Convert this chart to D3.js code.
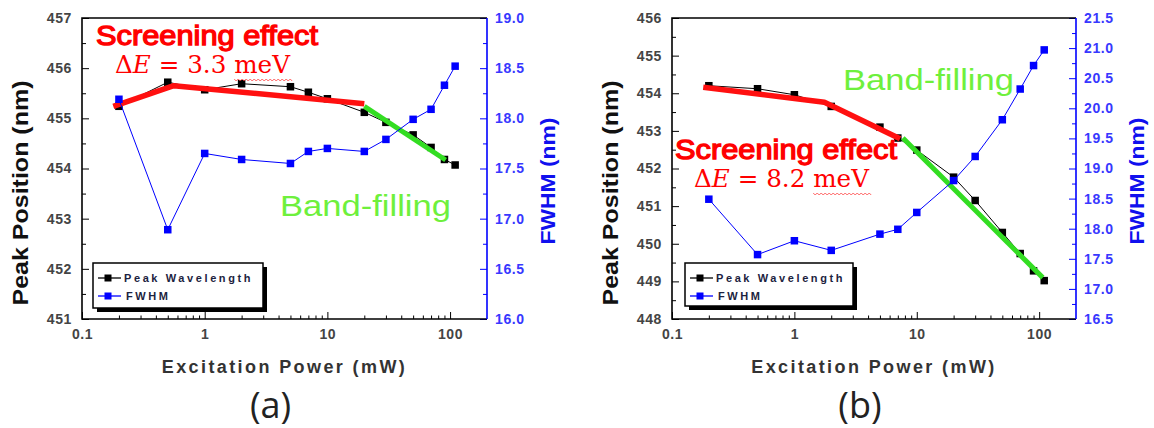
<!DOCTYPE html>
<html>
<head>
<meta charset="utf-8">
<script src="https://cdn.jsdelivr.net/npm/d3@7/dist/d3.min.js"></script>
<style>
  body { margin: 0; background: #fff; }
  svg { font-family: "Liberation Sans", Arial, sans-serif; }
</style>
</head>
<body>
<div id="chart"></div>
<script>
// excitation power (mW), shared by both samples
const power = [0.2, 0.5, 1, 2, 5, 7, 10, 20, 30, 50, 70, 90, 110];

// sample (a)
const peakA = [455.24, 455.72, 455.57, 455.69, 455.63, 455.52, 455.39, 455.12, 454.92, 454.67, 454.42, 454.18, 454.07];
const fwhmA = [18.19, 16.89, 17.65, 17.59, 17.55, 17.67, 17.70, 17.67, 17.79, 17.99, 18.09, 18.33, 18.52];
const screenFitA = { x: [0.18, 0.56, 20], y: [455.24, 455.65, 455.29] };
const bandFitA = { x: [20, 92], y: [455.24, 454.17] };

// sample (b)
const peakB = [454.20, 454.12, 453.96, 453.65, 453.10, 452.81, 452.49, 451.77, 451.15, 450.30, 449.74, 449.28, 449.02];
const fwhmB = [18.49, 17.57, 17.80, 17.64, 17.91, 17.99, 18.27, 18.80, 19.20, 19.81, 20.32, 20.71, 20.97];
const screenFitB = { x: [0.18, 1.76, 7.3], y: [454.16, 453.76, 452.79] };
const bandFitB = { x: [7.7, 107], y: [452.81, 449.10] };

// tick labels
const xTicks = [0.1, 1, 10, 100];
const xTickLabels = ['0.1', '1', '10', '100'];
const leftTicksA = [451, 452, 453, 454, 455, 456, 457];
const rightTicksA = [16.0, 16.5, 17.0, 17.5, 18.0, 18.5, 19.0];
const leftTicksB = [448, 449, 450, 451, 452, 453, 454, 455, 456];
const rightTicksB = [16.5, 17.0, 17.5, 18.0, 18.5, 19.0, 19.5, 20.0, 20.5, 21.0, 21.5];

const seriesNames = ['Peak Wavelength', 'FWHM'];

const W = 1154, H = 428;
const svg = d3.select('#chart').append('svg')
  .attr('width', W)
  .attr('height', H);

function midpoints(t) {
  const out = [];
  for (let i = 0; i < t.length - 1; i++) out.push((t[i] + t[i + 1]) / 2);
  return out;
}

function drawPanel(o) {
  const g = svg.append('g');
  const x = d3.scaleLog().domain([0.1, 200]).range([o.left, o.right]);
  const yL = d3.scaleLinear().domain(d3.extent(o.leftTicks)).range([o.bottom, o.top]);
  const yR = d3.scaleLinear().domain(d3.extent(o.rightTicks)).range([o.bottom, o.top]);

  const tickFont = s => s.attr('font-size', 14).attr('font-weight', 'bold')
    .attr('letter-spacing', 0.6).style('font-family', '"Liberation Sans", Arial, sans-serif');

  // bottom axis
  const xMinor = [];
  [0.1, 1, 10, 100].forEach(d => { for (let k = 2; k <= 9; k++) if (d * k < 200) xMinor.push(d * k); });
  g.append('g')
    .attr('transform', `translate(0,${o.bottom})`)
    .call(d3.axisBottom(x).tickValues(xMinor).tickSizeInner(-3.5).tickSizeOuter(0).tickFormat(''))
    .call(a => a.select('.domain').remove());
  g.append('g')
    .attr('transform', `translate(0,${o.bottom})`)
    .call(d3.axisBottom(x).tickValues(xTicks).tickSizeInner(-7).tickSizeOuter(0).tickPadding(10)
      .tickFormat((d, i) => xTickLabels[i]))
    .call(a => a.select('.domain').remove())
    .call(a => a.selectAll('text').attr('fill', '#444').call(tickFont));

  // left axis
  g.append('g')
    .attr('transform', `translate(${o.left},0)`)
    .call(d3.axisLeft(yL).tickValues(midpoints(o.leftTicks)).tickSizeInner(-4).tickSizeOuter(0).tickFormat(''))
    .call(a => a.select('.domain').remove());
  g.append('g')
    .attr('transform', `translate(${o.left},0)`)
    .call(d3.axisLeft(yL).tickValues(o.leftTicks).tickSizeInner(-7).tickSizeOuter(0).tickPadding(10)
      .tickFormat(d3.format('d')))
    .call(a => a.select('.domain').remove())
    .call(a => a.selectAll('text').attr('fill', '#444').call(tickFont));

  // right axis (blue)
  g.append('g')
    .attr('transform', `translate(${o.right},0)`)
    .call(d3.axisRight(yR).tickValues(midpoints(o.rightTicks)).tickSizeInner(-4).tickSizeOuter(0).tickFormat(''))
    .call(a => a.select('.domain').remove())
    .call(a => a.selectAll('line').attr('stroke', '#0000ff'));
  g.append('g')
    .attr('transform', `translate(${o.right},0)`)
    .call(d3.axisRight(yR).tickValues(o.rightTicks).tickSizeInner(-7).tickSizeOuter(0).tickPadding(8)
      .tickFormat(d3.format('.1f')))
    .call(a => a.select('.domain').remove())
    .call(a => a.selectAll('line').attr('stroke', '#0000ff'))
    .call(a => a.selectAll('text').attr('fill', '#3838ff').call(tickFont));

  // frame
  g.append('path')
    .attr('d', `M${o.right},${o.top}H${o.left}V${o.bottom}H${o.right}`)
    .attr('fill', 'none').attr('stroke', '#000').attr('stroke-width', 1.6);
  g.append('line')
    .attr('x1', o.right).attr('x2', o.right).attr('y1', o.top).attr('y2', o.bottom)
    .attr('stroke', '#0000ff').attr('stroke-width', 1.6);

  // axis titles
  g.append('text')
    .attr('x', (o.left + o.right) / 2).attr('y', 373)
    .attr('text-anchor', 'middle').attr('font-size', 18).attr('font-weight', 'bold')
    .attr('fill', '#333').attr('letter-spacing', 2.4)
    .text('Excitation Power (mW)');
  g.append('text')
    .attr('transform', `translate(${o.left - 54},193) rotate(-90)`)
    .attr('text-anchor', 'middle').attr('font-size', 22).attr('font-weight', 'bold')
    .attr('fill', '#111').attr('textLength', 225).attr('lengthAdjust', 'spacingAndGlyphs')
    .text('Peak Position (nm)');
  g.append('text')
    .attr('transform', `translate(${o.right + 68},181) rotate(-90)`)
    .attr('text-anchor', 'middle').attr('font-size', 21).attr('font-weight', 'bold')
    .attr('fill', '#1010ee').attr('textLength', 127).attr('lengthAdjust', 'spacingAndGlyphs')
    .text('FWHM (nm)');
  g.append('text')
    .attr('x', (o.left + o.right) / 2 - 14).attr('y', 418)
    .attr('text-anchor', 'middle').attr('font-size', 36)
    .style('font-family', '"Open Sans", sans-serif').attr('fill', '#222')
    .text(o.tag);

  // data series
  const peakLine = d3.line().x((d, i) => x(power[i])).y(d => yL(d));
  const fwhmLine = d3.line().x((d, i) => x(power[i])).y(d => yR(d));
  const fitLine = d3.line().x(d => x(d[0])).y(d => yL(d[1]));
  const sq = 7.5;

  g.append('path').attr('d', peakLine(o.peak))
    .attr('fill', 'none').attr('stroke', '#000').attr('stroke-width', 1);
  g.selectAll('.pk').data(o.peak).enter().append('rect')
    .attr('x', (d, i) => x(power[i]) - sq / 2).attr('y', d => yL(d) - sq / 2)
    .attr('width', sq).attr('height', sq).attr('fill', '#000');

  g.append('path').attr('d', fitLine(d3.zip(o.screenFit.x, o.screenFit.y)))
    .attr('fill', 'none').attr('stroke', '#ff1010').attr('stroke-width', 5.5)
    .attr('stroke-linejoin', 'round');
  g.append('path').attr('d', fitLine(d3.zip(o.bandFit.x, o.bandFit.y)))
    .attr('fill', 'none').attr('stroke', '#33dd22').attr('stroke-width', 5);

  g.append('path').attr('d', fwhmLine(o.fwhm))
    .attr('fill', 'none').attr('stroke', '#0000ff').attr('stroke-width', 1);
  g.selectAll('.fw').data(o.fwhm).enter().append('rect')
    .attr('x', (d, i) => x(power[i]) - sq / 2).attr('y', d => yR(d) - sq / 2)
    .attr('width', sq).attr('height', sq).attr('fill', '#0000ff');

  // annotations
  g.append('text')
    .attr('x', o.screenPos[0]).attr('y', o.screenPos[1])
    .attr('font-size', 28).attr('fill', '#ff0000').attr('stroke', '#ff0000').attr('stroke-width', 1.3)
    .attr('textLength', 222).attr('lengthAdjust', 'spacingAndGlyphs')
    .text('Screening effect');

  const dE = g.append('text')
    .attr('x', o.screenPos[0] + 19).attr('y', o.screenPos[1] + 28)
    .style('font-family', '"DejaVu Serif", "Liberation Serif", serif')
    .attr('font-size', 25).attr('fill', '#ff0000')
    .attr('textLength', 175).attr('lengthAdjust', 'spacingAndGlyphs');
  dE.append('tspan').text('Δ');
  dE.append('tspan').attr('font-style', 'italic').text('E');
  dE.append('tspan').text(' = ' + o.deltaE + ' ');
  dE.append('tspan').text('meV');
  const n = dE.text().length;
  const mStart = dE.node().getStartPositionOfChar(n - 3).x;
  const mEnd = dE.node().getEndPositionOfChar(n - 1).x;
  // spell-check squiggle under "meV"
  const sy = o.screenPos[1] + 34;
  let sqz = `M${mStart},${sy}`;
  for (let px = mStart, k = 0; px < mEnd + 2; px += 2, k++) {
    sqz += `L${px + 2},${sy + (k % 2 ? 0 : 2)}`;
  }
  g.append('path').attr('d', sqz).attr('fill', 'none').attr('stroke', '#ff4040').attr('stroke-width', 0.8);

  g.append('text')
    .attr('x', o.bandPos[0]).attr('y', o.bandPos[1])
    .attr('font-size', 30).attr('fill', '#6ef03c')
    .attr('textLength', 171).attr('lengthAdjust', 'spacingAndGlyphs')
    .text('Band-filling');

  // legend
  const lx = o.legend[0], ly = o.legend[1], lw = o.legend[2], lh = o.legend[3];
  g.append('rect').attr('x', lx + 4).attr('y', ly + 4).attr('width', lw).attr('height', lh).attr('fill', '#000');
  g.append('rect').attr('x', lx).attr('y', ly).attr('width', lw).attr('height', lh)
    .attr('fill', '#fff').attr('stroke', '#000').attr('stroke-width', 1.5);
  const entries = [{ name: seriesNames[0], color: '#000' }, { name: seriesNames[1], color: '#0000ff' }];
  entries.forEach((e, i) => {
    const cy = ly + 15 + i * 18;
    g.append('line').attr('x1', lx + 5).attr('x2', lx + 28).attr('y1', cy).attr('y2', cy)
      .attr('stroke', e.color).attr('stroke-width', 1.3);
    g.append('rect').attr('x', lx + 15 - 3.5).attr('y', cy - 3.5).attr('width', 7).attr('height', 7)
      .attr('fill', e.color);
    g.append('text').attr('x', lx + 31 + i * 2).attr('y', cy + 4)
      .attr('font-size', 11).attr('font-weight', 'bold').attr('letter-spacing', 2.6)
      .attr('fill', '#1c2340').text(e.name);
  });
}

drawPanel({
  tag: '(a)', left: 82, right: 487, top: 18, bottom: 319,
  leftTicks: leftTicksA, rightTicks: rightTicksA,
  peak: peakA, fwhm: fwhmA, screenFit: screenFitA, bandFit: bandFitA,
  deltaE: '3.3', screenPos: [96, 45], bandPos: [280, 216], legend: [93, 263, 170, 45]
});

drawPanel({
  tag: '(b)', left: 672, right: 1076, top: 18, bottom: 319,
  leftTicks: leftTicksB, rightTicks: rightTicksB,
  peak: peakB, fwhm: fwhmB, screenFit: screenFitB, bandFit: bandFitB,
  deltaE: '8.2', screenPos: [675, 159], bandPos: [843, 90], legend: [685, 263, 168, 43]
});
</script>
</body>
</html>
